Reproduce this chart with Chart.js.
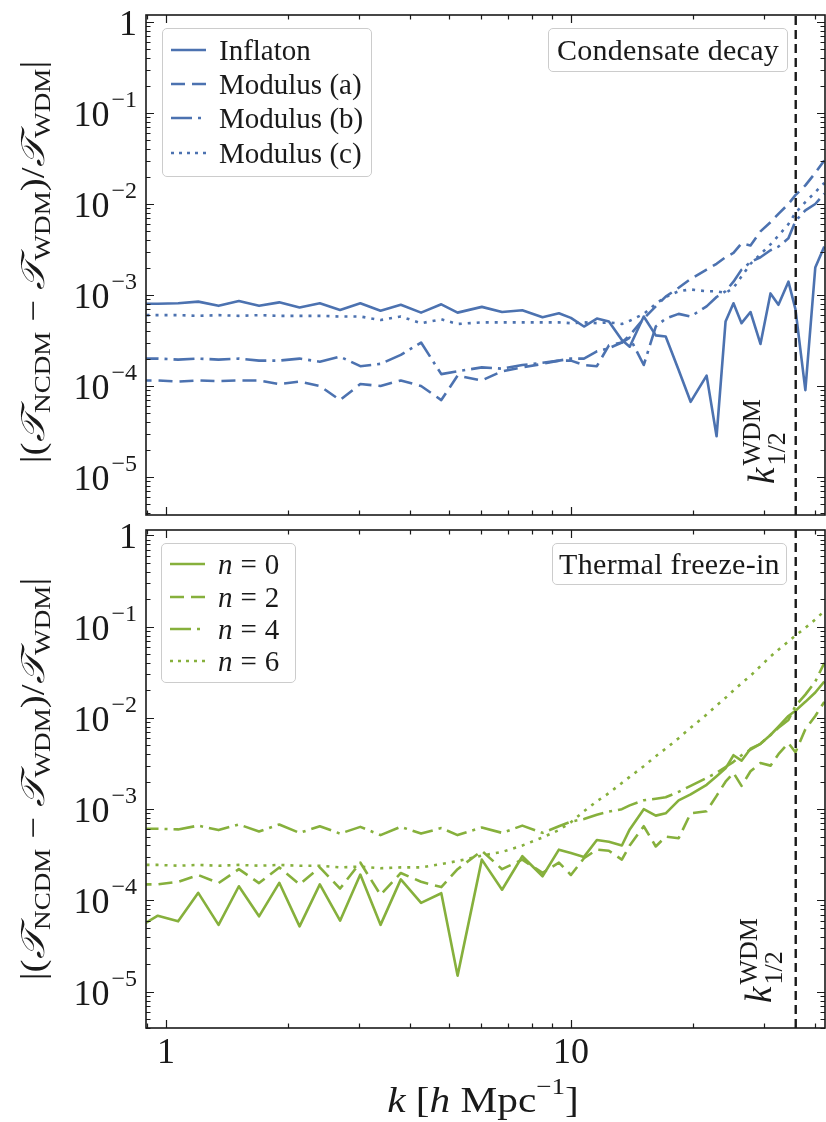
<!DOCTYPE html>
<html>
<head>
<meta charset="utf-8">
<script src="https://cdn.jsdelivr.net/npm/chart.js@4.4.1/dist/chart.umd.min.js"></script>
<style>
  body { margin: 0; background: #fff; }
  #page { position: relative; width: 826px; height: 1122px; overflow: hidden; background: #fff;
          font-family: 'Liberation Serif', 'DejaVu Serif', serif; color: #1a1a1a; }
  canvas { position: absolute; left: 0; }
  .legend { position: absolute; box-sizing: border-box; border: 1px solid #cccccc; border-radius: 5px;
            background: rgba(255,255,255,0.8); }
  .row { position: absolute; left: 0; height: 34px; width: 100%; }
  .row svg { position: absolute; left: 8px; top: 14px; }
  .row span.t { position: absolute; left: 56px; top: 0; line-height: 34px; font-size: 29px; white-space: nowrap; }
  .note { position: absolute; box-sizing: border-box; border: 1px solid #cccccc; border-radius: 5px;
          background: rgba(255,255,255,0.8); font-size: 30px; letter-spacing: 0.3px; line-height: 1; display: flex;
          align-items: center; justify-content: center; white-space: nowrap; }
  .ytitle { position: absolute; font-size: 33px; line-height: 1; white-space: nowrap;
            transform: translate(-50%, -50%) rotate(-90deg) scaleX(1.18); }
  .ytitle sub { font-size: 23px; vertical-align: -0.28em; line-height: 0; }
  .cal { font-style: italic; }
  .xtitle { position: absolute; font-size: 35px; line-height: 1; white-space: nowrap;
            transform: translate(-50%, -50%) scaleX(1.18); }
  .xtitle sup { font-size: 23px; vertical-align: 0.75em; line-height: 0; }
  .klabel { position: absolute; font-size: 37px; line-height: 1; white-space: nowrap;
            transform-origin: 0 0; transform: rotate(-90deg); }
  .stack { display: inline-block; font-size: 26px; line-height: 25px; vertical-align: -11px; margin-left: 2px; }
  .stack span { display: block; }
</style>
</head>
<body>
<div id="page">
  <canvas id="topChart" width="826" height="520" style="top:0"></canvas>
  <canvas id="bottomChart" width="826" height="602" style="top:520px"></canvas>

  <div class="ytitle" style="left:33px; top:262px">|(<span class="cal">𝒯</span><sub>NCDM</sub> − <span class="cal">𝒯</span><sub>WDM</sub>)/<span class="cal">𝒯</span><sub>WDM</sub>|</div>
  <div class="ytitle" style="left:33px; top:779px">|(<span class="cal">𝒯</span><sub>NCDM</sub> − <span class="cal">𝒯</span><sub>WDM</sub>)/<span class="cal">𝒯</span><sub>WDM</sub>|</div>
  <div class="xtitle" style="left:483px; top:1100px"><i>k</i> [<i>h</i> Mpc<sup>−1</sup>]</div>

  <div class="legend" style="left:162px; top:28px; width:210px; height:149px">
    <div class="row" style="top:4px"><svg width="35" height="6"><line x1="0" y1="3" x2="35" y2="3" stroke="#4c72b0" stroke-width="2.6"/></svg><span class="t">Inflaton</span></div>
    <div class="row" style="top:38px"><svg width="35" height="6"><line x1="0" y1="3" x2="35" y2="3" stroke="#4c72b0" stroke-width="2.6" stroke-dasharray="14 7"/></svg><span class="t">Modulus (a)</span></div>
    <div class="row" style="top:72px"><svg width="35" height="6"><line x1="0" y1="3" x2="35" y2="3" stroke="#4c72b0" stroke-width="2.6" stroke-dasharray="21 6 3 6"/></svg><span class="t">Modulus (b)</span></div>
    <div class="row" style="top:107px"><svg width="35" height="6"><line x1="0" y1="3" x2="35" y2="3" stroke="#4c72b0" stroke-width="2.6" stroke-dasharray="3 5"/></svg><span class="t">Modulus (c)</span></div>
  </div>
  <div class="note" style="left:548px; top:28px; width:240px; height:44px">Condensate decay</div>

  <div class="legend" style="left:161px; top:543px; width:135px; height:140px">
    <div class="row" style="top:3px"><svg width="35" height="6"><line x1="0" y1="3" x2="35" y2="3" stroke="#86b03c" stroke-width="2.6"/></svg><span class="t"><i>n</i><span style="margin:0 8px">=</span>0</span></div>
    <div class="row" style="top:36px"><svg width="35" height="6"><line x1="0" y1="3" x2="35" y2="3" stroke="#86b03c" stroke-width="2.6" stroke-dasharray="14 7"/></svg><span class="t"><i>n</i><span style="margin:0 8px">=</span>2</span></div>
    <div class="row" style="top:68px"><svg width="35" height="6"><line x1="0" y1="3" x2="35" y2="3" stroke="#86b03c" stroke-width="2.6" stroke-dasharray="21 6 3 6"/></svg><span class="t"><i>n</i><span style="margin:0 8px">=</span>4</span></div>
    <div class="row" style="top:100px"><svg width="35" height="6"><line x1="0" y1="3" x2="35" y2="3" stroke="#86b03c" stroke-width="2.6" stroke-dasharray="3 5"/></svg><span class="t"><i>n</i><span style="margin:0 8px">=</span>6</span></div>
  </div>
  <div class="note" style="left:552px; top:543px; width:235px; height:42px">Thermal freeze-in</div>

  <div class="klabel" id="kTop"><i>k</i><span class="stack"><span>WDM</span><span>1/2</span></span></div>
  <div class="klabel" id="kBottom"><i>k</i><span class="stack"><span>WDM</span><span>1/2</span></span></div>
</div>

<script>
// wavenumbers k [h/Mpc], shared by every curve
const kValues = [0.851, 0.955, 1.072, 1.202, 1.349, 1.514, 1.698, 1.905, 2.138, 2.399,
                 2.692, 3.020, 3.388, 3.802, 4.266, 4.786, 5.25, 6.026, 6.761, 7.586,
                 8.511, 9.34, 10.0, 10.77, 11.59, 12.41, 13.36, 13.97, 15.13, 16.20,
                 17.14, 18.45, 19.75, 21.63, 22.89, 24.09, 25.20, 26.38, 27.76, 29.38,
                 31.10, 32.54, 34.44, 35.84, 37.92, 40.12, 42.23];

// Condensate decay
const inflaton = [8.0e-4, 8.0e-4, 8.1e-4, 8.45e-4, 7.6e-4, 8.6e-4, 7.6e-4, 8.3e-4, 7.3e-4, 8.1e-4,
                  6.85e-4, 8.1e-4, 6.7e-4, 7.8e-4, 6.4e-4, 7.9e-4, 6.4e-4, 7.4e-4, 6.5e-4, 6.8e-4,
                  5.7e-4, 6.3e-4, 5.6e-4, 4.5e-4, 5.5e-4, 5.1e-4, 3.2e-4, 2.7e-4, 5.8e-4, 3.6e-4,
                  3.5e-4, 1.5e-4, 6.7e-5, 1.3e-4, 2.8e-5, 5.1e-4, 8.1e-4, 4.9e-4, 6.5e-4, 2.9e-4,
                  1.04e-3, 7.8e-4, 1.4e-3, 7.0e-4, 9.0e-5, 2.0e-3, 3.4e-3];
const modulusA = [1.15e-4, 1.15e-4, 1.12e-4, 1.15e-4, 1.13e-4, 1.15e-4, 1.15e-4, 1.05e-4, 1.12e-4, 1.0e-4,
                  7.0e-5, 1.05e-4, 1.0e-4, 1.15e-4, 1.0e-4, 7.0e-5, 1.3e-4, 1.15e-4, 1.45e-4, 1.6e-4,
                  1.75e-4, 1.9e-4, 1.9e-4, 1.7e-4, 1.65e-4, 2.8e-4, 3.0e-4, 3.6e-4, 5.5e-4, 7.5e-4,
                  9.6e-4, 1.2e-3, 1.5e-3, 1.9e-3, 2.2e-3, 2.6e-3, 2.9e-3, 3.7e-3, 3.5e-3, 5.0e-3,
                  6.3e-3, 7.8e-3, 1.0e-2, 1.25e-2, 1.6e-2, 2.2e-2, 3.0e-2];
const modulusB = [2.0e-4, 2.0e-4, 1.95e-4, 2.0e-4, 1.95e-4, 2.0e-4, 1.9e-4, 1.9e-4, 2.0e-4, 1.85e-4,
                  2.1e-4, 1.65e-4, 1.75e-4, 2.2e-4, 3.0e-4, 1.35e-4, 1.45e-4, 1.6e-4, 1.55e-4, 1.7e-4,
                  1.8e-4, 1.9e-4, 2.0e-4, 2.0e-4, 2.4e-4, 2.6e-4, 3.0e-4, 3.4e-4, 1.7e-4, 4.5e-4,
                  5.5e-4, 6.2e-4, 5.8e-4, 7.5e-4, 9.5e-4, 1.1e-3, 1.4e-3, 1.9e-3, 2.3e-3, 2.6e-3,
                  3.1e-3, 3.4e-3, 4.2e-3, 6.5e-3, 8.5e-3, 1.0e-2, 1.3e-2];
const modulusC = [6.0e-4, 6.0e-4, 6.0e-4, 5.9e-4, 6.0e-4, 5.9e-4, 6.0e-4, 5.9e-4, 5.9e-4, 5.9e-4,
                  5.8e-4, 5.8e-4, 5.3e-4, 5.8e-4, 4.9e-4, 5.4e-4, 4.8e-4, 5.0e-4, 5.0e-4, 5.0e-4,
                  5.0e-4, 5.0e-4, 4.9e-4, 5.0e-4, 4.9e-4, 5.0e-4, 4.8e-4, 5.2e-4, 6.2e-4, 8.0e-4,
                  9.5e-4, 1.1e-3, 1.15e-3, 1.1e-3, 1.1e-3, 1.05e-3, 1.2e-3, 1.6e-3, 2.2e-3, 2.8e-3,
                  3.6e-3, 4.5e-3, 6.0e-3, 8.0e-3, 1.05e-2, 1.35e-2, 1.7e-2];

// Thermal freeze-in
const n0 = [5.0e-5, 6.8e-5, 5.9e-5, 1.21e-4, 5.4e-5, 1.43e-4, 6.7e-5, 1.56e-4, 5.2e-5, 1.5e-4,
            6.0e-5, 1.92e-4, 5.4e-5, 1.7e-4, 9.4e-5, 1.2e-4, 1.5e-5, 2.8e-4, 1.31e-4, 3.05e-4,
            1.84e-4, 3.6e-4, 3.3e-4, 3.0e-4, 4.6e-4, 4.4e-4, 4.0e-4, 6.0e-4, 1.0e-3, 8.5e-4,
            9.0e-4, 1.25e-3, 1.45e-3, 1.85e-3, 2.3e-3, 2.8e-3, 3.9e-3, 3.4e-3, 4.6e-3, 5.2e-3,
            6.5e-3, 8.0e-3, 1.05e-2, 1.2e-2, 1.5e-2, 1.9e-2, 2.5e-2];
const n2 = [1.5e-4, 1.5e-4, 1.6e-4, 1.9e-4, 1.55e-4, 2.2e-4, 1.55e-4, 2.3e-4, 1.5e-4, 2.3e-4,
            1.35e-4, 2.6e-4, 1.15e-4, 2.0e-4, 1.6e-4, 1.4e-4, 2.2e-4, 3.5e-4, 2.2e-4, 2.8e-4,
            2.0e-4, 2.6e-4, 1.9e-4, 2.9e-4, 3.6e-4, 3.5e-4, 2.8e-4, 4.0e-4, 6.5e-4, 3.9e-4,
            5.0e-4, 4.8e-4, 9.0e-4, 9.5e-4, 1.4e-3, 2.0e-3, 2.5e-3, 1.8e-3, 2.6e-3, 3.2e-3,
            3.0e-3, 4.0e-3, 5.3e-3, 4.2e-3, 7.5e-3, 1.05e-2, 1.5e-2];
const n4 = [6.1e-4, 6.1e-4, 6.0e-4, 6.6e-4, 5.9e-4, 6.8e-4, 5.7e-4, 6.8e-4, 5.5e-4, 6.5e-4,
            5.4e-4, 6.4e-4, 5.2e-4, 6.4e-4, 5.4e-4, 6.2e-4, 5.2e-4, 6.3e-4, 5.5e-4, 6.6e-4,
            5.5e-4, 6.5e-4, 7.3e-4, 7.8e-4, 8.7e-4, 9.4e-4, 1.0e-3, 1.1e-3, 1.25e-3, 1.3e-3,
            1.35e-3, 1.55e-3, 1.8e-3, 2.2e-3, 2.5e-3, 2.9e-3, 3.3e-3, 3.9e-3, 4.5e-3, 5.2e-3,
            6.5e-3, 7.8e-3, 9.5e-3, 1.35e-2, 1.8e-2, 2.5e-2, 4.0e-2];
const n6 = [2.45e-4, 2.45e-4, 2.4e-4, 2.45e-4, 2.4e-4, 2.45e-4, 2.4e-4, 2.45e-4, 2.4e-4, 2.4e-4,
            2.3e-4, 2.35e-4, 2.25e-4, 2.3e-4, 2.3e-4, 2.5e-4, 2.7e-4, 3.1e-4, 3.4e-4, 4.0e-4,
            4.9e-4, 5.9e-4, 7.2e-4, 9.5e-4, 1.22e-3, 1.5e-3, 1.94e-3, 2.26e-3, 2.96e-3, 3.8e-3,
            4.6e-3, 6.0e-3, 7.8e-3, 1.09e-2, 1.37e-2, 1.66e-2, 2.0e-2, 2.4e-2, 2.9e-2, 3.7e-2,
            4.7e-2, 5.6e-2, 6.9e-2, 8.0e-2, 9.7e-2, 0.12, 0.148];

const kHalfWDM = 35.9;

const xTickValues = [1, 10];
const xTickLabels = ['1', '10'];
const yTickValues = [1, 1e-1, 1e-2, 1e-3, 1e-4, 1e-5];
const yTickLabels = ['1', '10^−1', '10^−2', '10^−3', '10^−4', '10^−5'];

const BLUE = '#4c72b0';
const GREEN = '#86b03c';
const INK = '#1a1a1a';
const SOLID = [], DASHED = [14, 7], DASHDOT = [21, 6, 3, 6], DOTTED = [3, 6];
const FONT = "'Liberation Serif', 'DejaVu Serif', serif";
const X_RANGE = [0.893, 42.4];

// every tick of a log axis: the labelled decades plus 2..9 in between
function logTicks(scale, majors) {
  const ticks = [];
  const lo = Math.floor(Math.log10(scale.min)), hi = Math.ceil(Math.log10(scale.max));
  for (let e = lo; e <= hi; e++) {
    for (let m = 1; m <= 9; m++) {
      const v = m * Math.pow(10, e);
      if (v < scale.min || v > scale.max) continue;
      const j = majors.findIndex(t => Math.abs(t - v) / t < 1e-9);
      ticks.push({ value: j >= 0 ? majors[j] : v, major: m === 1 });
    }
  }
  scale.ticks = ticks;
}

function labelFor(values, labels) {
  return v => {
    const j = values.findIndex(t => Math.abs(t - v) / t < 1e-9);
    return j >= 0 ? labels[j] : '';
  };
}
const yLabel = labelFor(yTickValues, yTickLabels);

// "10^−3" -> big base with a raised exponent, right-aligned against the axis
function drawPowerLabel(ctx, text, xRight, yTick) {
  const [base, exp] = text.split('^');
  ctx.font = '36px ' + FONT;
  const bw = ctx.measureText(base).width;
  let ew = 0;
  if (exp) { ctx.font = '24px ' + FONT; ew = ctx.measureText(exp).width + 2; }
  const x0 = xRight - bw - ew;
  ctx.font = '36px ' + FONT;
  ctx.fillText(base, x0, yTick + 13);
  if (exp) { ctx.font = '24px ' + FONT; ctx.fillText(exp, x0 + bw + 2, yTick - 6); }
}

// matplotlib-like frame: full box with inward ticks on all four sides
const frameTicks = {
  id: 'frameTicks',
  afterDraw(chart) {
    const { ctx, chartArea: a, scales: { x, y } } = chart;
    ctx.save();
    ctx.strokeStyle = INK;
    ctx.lineWidth = 1.2;
    ctx.beginPath();
    x.ticks.forEach(t => {
      const px = Math.round(x.getPixelForValue(t.value)) + 0.5;
      const len = t.major ? 8 : 4.5;
      ctx.moveTo(px, a.bottom); ctx.lineTo(px, a.bottom - len);
      ctx.moveTo(px, a.top); ctx.lineTo(px, a.top + len);
    });
    y.ticks.forEach(t => {
      const py = Math.round(y.getPixelForValue(t.value)) + 0.5;
      const len = t.major ? 8 : 4.5;
      ctx.moveTo(a.left, py); ctx.lineTo(a.left + len, py);
      ctx.moveTo(a.right, py); ctx.lineTo(a.right - len, py);
    });
    ctx.stroke();
    ctx.lineWidth = 1.6;
    ctx.strokeRect(a.left, a.top, a.right - a.left, a.bottom - a.top);

    ctx.fillStyle = INK;
    ctx.textAlign = 'left';
    ctx.textBaseline = 'alphabetic';
    y.ticks.forEach(t => {
      const label = yLabel(t.value);
      if (label) drawPowerLabel(ctx, label, a.left - 9, y.getPixelForValue(t.value));
    });
    ctx.restore();
  }
};

function series(values, color, dash, order) {
  return {
    data: kValues.map((k, i) => ({ x: k, y: values[i] })),
    borderColor: color, borderWidth: 2.6, borderDash: dash,
    borderCapStyle: 'butt', borderJoinStyle: 'round',
    pointRadius: 0, tension: 0, fill: false, order: order
  };
}

function halfModeLine(yRange) {
  return {
    data: [{ x: kHalfWDM, y: yRange[0] }, { x: kHalfWDM, y: yRange[1] }],
    borderColor: INK, borderWidth: 2.4, borderDash: [9, 5],
    pointRadius: 0, tension: 0, fill: false, order: 0
  };
}

function makePanel(canvasId, datasets, yRange, showX) {
  return new Chart(document.getElementById(canvasId), {
    type: 'line',
    data: { datasets: datasets },
    options: {
      responsive: false,
      animation: false,
      devicePixelRatio: 1,
      layout: { padding: { left: 0, top: showX ? 10 : 15, right: 1, bottom: 0 } },
      plugins: { legend: { display: false }, tooltip: { enabled: false } },
      scales: {
        x: {
          type: 'logarithmic', min: X_RANGE[0], max: X_RANGE[1], bounds: 'data',
          grid: { display: false, drawTicks: false },
          border: { display: false },
          ticks: {
            display: showX, autoSkip: false, maxRotation: 0, minRotation: 0, padding: 4,
            color: INK, font: { family: FONT, size: 36 },
            callback: labelFor(xTickValues, xTickLabels)
          },
          afterBuildTicks: s => logTicks(s, xTickValues),
          afterFit: s => { s.height = showX ? 94 : 5; s.paddingLeft = 0; s.paddingRight = 0; }
        },
        y: {
          type: 'logarithmic', min: yRange[0], max: yRange[1], bounds: 'data',
          grid: { display: false, drawTicks: false },
          border: { display: false },
          ticks: { display: false },
          afterBuildTicks: s => logTicks(s, yTickValues),
          afterFit: s => { s.width = 146; s.paddingTop = 0; s.paddingBottom = 0; }
        }
      }
    },
    plugins: [frameTicks]
  });
}

const topRange = [3.82e-6, 1.194];
const bottomRange = [4.0e-6, 1.146];

makePanel('topChart', [
  series(inflaton, BLUE, SOLID, 4),
  series(modulusA, BLUE, DASHED, 3),
  series(modulusB, BLUE, DASHDOT, 2),
  series(modulusC, BLUE, DOTTED, 1),
  halfModeLine(topRange)
], topRange, false);

makePanel('bottomChart', [
  series(n0, GREEN, SOLID, 4),
  series(n2, GREEN, DASHED, 3),
  series(n4, GREEN, DASHDOT, 2),
  series(n6, GREEN, DOTTED, 1),
  halfModeLine(bottomRange)
], bottomRange, true);

// rotated k_1/2 labels: right edge next to the dashed line, text starting near the bottom
function placeK(id, right, bottom) {
  const el = document.getElementById(id);
  el.style.left = (right - el.offsetHeight) + 'px';
  el.style.top = bottom + 'px';
}
placeK('kTop', 789, 484);
placeK('kBottom', 786, 1003);
</script>
</body>
</html>
